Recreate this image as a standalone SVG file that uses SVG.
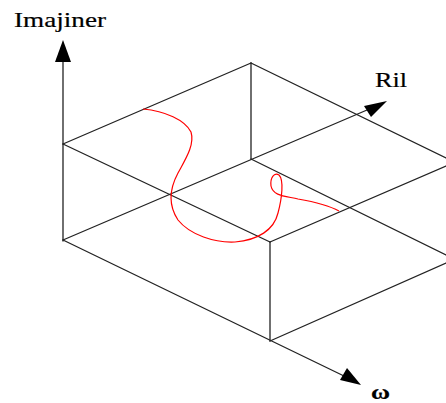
<svg xmlns="http://www.w3.org/2000/svg" width="446" height="403" viewBox="0 0 446 403">
<style>
.ln{stroke:#222;stroke-width:1.3;fill:none;stroke-linecap:round}
.ah{fill:#000;stroke:none}
.lbl{font-family:"Liberation Serif","Times New Roman",serif;font-size:22px;fill:#000;stroke:#000;stroke-width:0.2}
.crv{stroke:#ff0000;stroke-width:1.2;fill:none}
</style>
<rect width="446" height="403" fill="#fff"/>
<g id="connectors">
<line class="ln" x1="63" y1="241" x2="63" y2="60"/>
<polygon class="ah" points="63,40 55,62 71,62"/>
<line class="ln" x1="63" y1="240" x2="367" y2="110"/>
<polygon class="ah" points="387,101 364,106 371,117"/>
<line class="ln" x1="63" y1="240" x2="344" y2="376"/>
<polygon class="ah" points="361,385 340,380 347,368"/>
</g>
<g id="box">
<line class="ln" x1="63" y1="144" x2="251" y2="63"/>
<line class="ln" x1="251" y1="63" x2="446" y2="158"/>
<line class="ln" x1="251" y1="63" x2="251" y2="159"/>
<line class="ln" x1="251" y1="159" x2="446" y2="255"/>
<line class="ln" x1="63" y1="144" x2="270" y2="242"/>
<line class="ln" x1="270" y1="242" x2="446" y2="166"/>
<line class="ln" x1="270" y1="242" x2="270" y2="341"/>
<line class="ln" x1="270" y1="341" x2="446" y2="263"/>
</g>
<g id="curve">
<path class="crv" d="M143,109 C165,111 185,120 191,132 C195,145 185,160 178,173 C170,188 168,205 178,220 C190,235 215,243 235,242 C258,240 274,230 278,213 C282,198 284,180 279,175 C274,172 270,178 271,186 C273,196 285,196 298,199 C315,202 328,205 339,211"/>
</g>
<g id="labels">
<text class="lbl" x="14" y="27" textLength="92" lengthAdjust="spacingAndGlyphs">Imajiner</text>
<text class="lbl" x="375" y="87" textLength="32" lengthAdjust="spacingAndGlyphs">Ril</text>
<text class="lbl" x="371" y="399" font-weight="bold" font-size="21" textLength="19" lengthAdjust="spacingAndGlyphs">ω</text>
</g>
</svg>
